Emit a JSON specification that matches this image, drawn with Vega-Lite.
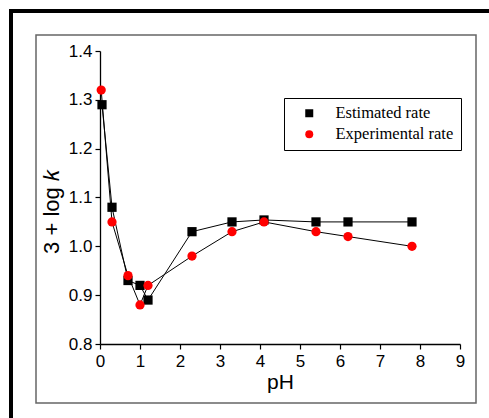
{
  "$schema": "https://vega.github.io/schema/vega-lite/v6.json",
  "autosize": {"type": "none"},
  "padding": {"left": 11, "top": 11, "right": 0, "bottom": 0},
  "width": 490,
  "height": 420,
  "background": "white",
  "config": {
    "view": {"stroke": "black", "strokeWidth": 4},
    "axis": {
      "labelFont": "Liberation Sans",
      "titleFont": "Liberation Sans, DejaVu Sans",
      "labelColor": "black",
      "titleColor": "black",
      "domainColor": "black",
      "tickColor": "black",
      "domainWidth": 1.3,
      "tickWidth": 1.2,
      "grid": false,
      "labelOverlap": false,
      "labelFlush": false,
      "titleFontWeight": "normal"
    }
  },
  "datasets": {
    "rates": [
      {"series": "Estimated rate", "pH": 0.05, "y": 1.29},
      {"series": "Estimated rate", "pH": 0.3, "y": 1.08},
      {"series": "Estimated rate", "pH": 0.7, "y": 0.93},
      {"series": "Estimated rate", "pH": 1.0, "y": 0.92},
      {"series": "Estimated rate", "pH": 1.2, "y": 0.89},
      {"series": "Estimated rate", "pH": 2.3, "y": 1.03},
      {"series": "Estimated rate", "pH": 3.3, "y": 1.05},
      {"series": "Estimated rate", "pH": 4.1, "y": 1.054},
      {"series": "Estimated rate", "pH": 5.4, "y": 1.05},
      {"series": "Estimated rate", "pH": 6.2, "y": 1.05},
      {"series": "Estimated rate", "pH": 7.8, "y": 1.05},
      {"series": "Experimental rate", "pH": 0.03, "y": 1.32},
      {"series": "Experimental rate", "pH": 0.3, "y": 1.05},
      {"series": "Experimental rate", "pH": 0.7, "y": 0.94},
      {"series": "Experimental rate", "pH": 1.0, "y": 0.88},
      {"series": "Experimental rate", "pH": 1.2, "y": 0.92},
      {"series": "Experimental rate", "pH": 2.3, "y": 0.98},
      {"series": "Experimental rate", "pH": 3.3, "y": 1.03},
      {"series": "Experimental rate", "pH": 4.1, "y": 1.05},
      {"series": "Experimental rate", "pH": 5.4, "y": 1.03},
      {"series": "Experimental rate", "pH": 6.2, "y": 1.02},
      {"series": "Experimental rate", "pH": 7.8, "y": 1.0}
    ]
  },
  "layer": [
    {
      "data": {"values": [{}]},
      "mark": {"type": "rect", "filled": false, "color": "#666666", "strokeWidth": 1.5, "opacity": 1},
      "encoding": {
        "x": {"datum": -1.6, "type": "quantitative", "scale": {"domain": [0, 9], "range": [89, 449]}},
        "x2": {"datum": 9.4},
        "y": {"datum": 0.6792, "type": "quantitative", "scale": {"domain": [0.8, 1.4], "range": [333, 40]}},
        "y2": {"datum": 1.4328}
      }
    },
    {
      "data": {"name": "rates"},
      "mark": {"type": "line", "color": "black", "strokeWidth": 1},
      "encoding": {
        "x": {"field": "pH", "type": "quantitative"},
        "y": {"field": "y", "type": "quantitative"},
        "detail": {"field": "series"}
      }
    },
    {
      "data": {"name": "rates"},
      "mark": {"type": "point", "filled": true, "opacity": 1, "size": 85},
      "encoding": {
        "x": {
          "field": "pH", "type": "quantitative",
          "axis": {
            "orient": "bottom",
            "offset": -87,
            "title": "pH",
            "titleFontSize": 21,
            "titlePadding": 2,
            "values": [0,0.5,1,1.5,2,2.5,3,3.5,4,4.5,5,5.5,6,6.5,7,7.5,8,8.5,9],
            "labelExpr": "datum.value % 1 === 0 ? format(datum.value, 'd') : ''",
            "labelFontSize": 17,
            "labelPadding": 4,
            "tickSize": {"condition": {"test": "datum.value % 1 !== 0", "value": 3}, "value": 5}
          }
        },
        "y": {
          "field": "y", "type": "quantitative",
          "axis": {
            "orient": "left",
            "offset": -89,
            "title": "3 + log 𝑘",
            "titleFontSize": 22,
            "titleY": 200,
            "titlePadding": 5,
            "values": [0.8,0.85,0.9,0.95,1.0,1.05,1.1,1.15,1.2,1.25,1.3,1.35,1.4],
            "labelExpr": "abs(datum.value*10 - round(datum.value*10)) < 0.01 ? format(datum.value, '.1f') : ''",
            "labelFontSize": 17,
            "labelPadding": 3,
            "tickSize": {"condition": {"test": "abs(datum.value*10 - round(datum.value*10)) > 0.01", "value": 3}, "value": 5}
          }
        },
        "color": {
          "field": "series", "type": "nominal",
          "scale": {"domain": ["Estimated rate", "Experimental rate"], "range": ["black", "red"]},
          "legend": {
            "title": null,
            "orient": "none",
            "legendX": 273,
            "legendY": 87,
            "strokeColor": "black",
            "fillColor": "white",
            "padding": 7,
            "symbolOffset": 10,
            "labelOffset": 18,
            "rowPadding": 4,
            "symbolSize": 64,
            "symbolOpacity": 1,
            "labelFont": "Liberation Serif",
            "labelFontSize": 16.5,
            "labelColor": "black"
          }
        },
        "shape": {
          "field": "series", "type": "nominal",
          "scale": {"domain": ["Estimated rate", "Experimental rate"], "range": ["square", "circle"]}
        }
      }
    }
  ]
}
